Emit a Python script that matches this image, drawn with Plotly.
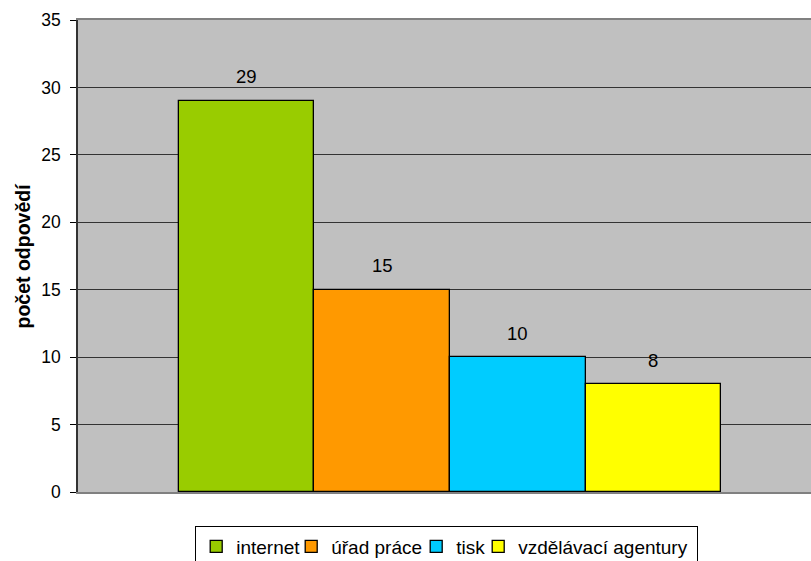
import plotly.graph_objects as go

# Survey answers: where respondents look for information
series = ["internet", "úřad práce", "tisk", "vzdělávací agentury"]
counts = [29, 15, 10, 8]
colors = ["#99CC00", "#FF9900", "#00CCFF", "#FFFF00"]
y_ticks = [0, 5, 10, 15, 20, 25, 30, 35]
y_title = "počet odpovědí"

# legend entry widths (px) so the entries sit close together
legend_widths = [50, 80, 17, 174]

FONT = "Liberation Sans, Arial, sans-serif"

fig = go.Figure()
for name, value, color, lw in zip(series, counts, colors, legend_widths):
    fig.add_trace(go.Bar(
        x=[name], y=[value], name=name,
        marker=dict(color=color, line=dict(color="#000000", width=1.3)),
        showlegend=True, legendwidth=lw,
    ))

# value labels above each bar
for name, value in zip(series, counts):
    fig.add_annotation(
        x=name, y=value, text=str(value), showarrow=False,
        yanchor="middle", yshift=24,
        font=dict(family=FONT, size=18.5, color="#000000"),
    )

# rotated axis title
fig.add_annotation(
    xref="paper", yref="paper", x=-0.0757, y=0.5, xanchor="center", yanchor="middle",
    text="<b>" + y_title + "</b>", textangle=-90, showarrow=False,
    font=dict(family=FONT, size=19.5, color="#000000"),
)

fig.update_layout(
    width=811, height=561,
    margin=dict(l=78, r=0, t=20, b=69, autoexpand=False),
    paper_bgcolor="#FFFFFF",
    plot_bgcolor="#C0C0C0",
    bargap=0, barmode="group",
    font=dict(family=FONT, size=17, color="#000000"),
    legend=dict(
        orientation="h", x=0.503, xanchor="center", y=-0.073, yanchor="top",
        bordercolor="#000000", borderwidth=1, bgcolor="#FFFFFF",
        font=dict(family=FONT, size=19, color="#000000"),
        itemwidth=30, tracegroupgap=0,
    ),
    xaxis=dict(
        range=[-1.245, 4.164], showticklabels=False, ticks="",
        showgrid=False, zeroline=False,
        showline=True, linecolor="#808080", linewidth=1.5, mirror=True,
        fixedrange=True,
    ),
    yaxis=dict(
        range=[0, 35], tickvals=y_ticks, ticks="outside", ticklen=6,
        tickcolor="#000000", tickwidth=1, ticklabelstandoff=6,
        showgrid=True, gridcolor="#333333", gridwidth=1,
        zeroline=False, showline=True, linecolor="#333333", linewidth=1.5,
        tickfont=dict(family=FONT, size=17.5, color="#000000"),
    ),
)

fig.write_html("out.html")
